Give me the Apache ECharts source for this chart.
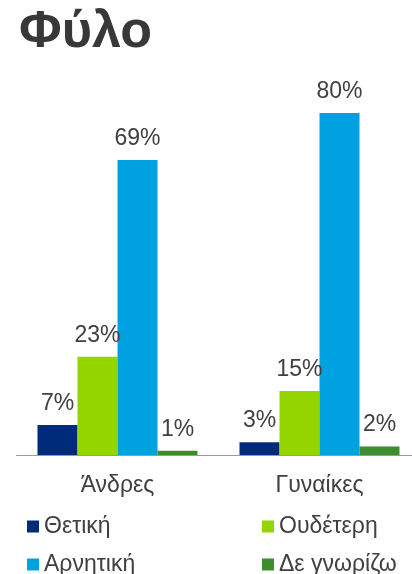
<!DOCTYPE html>
<html>
<head>
<meta charset="utf-8">
<script src="https://cdn.jsdelivr.net/npm/echarts@6/dist/echarts.min.js"></script>
<style>
  html, body { margin: 0; padding: 0; background: #fff; }
  #chart { width: 412px; height: 574px; }
</style>
</head>
<body>
<div id="chart"></div>
<script>
let categories = ['Άνδρες', 'Γυναίκες']
let seriesNames = ['Θετική', 'Ουδέτερη', 'Αρνητική', 'Δε γνωρίζω']
let positive = [7, 3]
let neutral = [23, 15]
let negative = [69, 80]
let dontKnow = [1, 2]
let colors = ['#002a7a', '#94d500', '#00a1e0', '#3d8d2f']

let font = '"Liberation Sans", Arial, sans-serif'
let values = [positive, neutral, negative, dontKnow]

let series = seriesNames.map((name, i) => ({
  name: name,
  type: 'bar',
  data: values[i],
  barWidth: 40,
  barGap: '0%',
  itemStyle: { color: colors[i] },
  label: {
    show: true,
    position: 'top',
    distance: 10,
    formatter: '{c}%',
    color: '#404040',
    fontSize: 23,
    fontFamily: font
  }
}))

// one legend per item so the 2x2 layout is fixed
let legendPos = [[22, 510], [257, 510], [22, 548], [257, 548]]
let legends = seriesNames.map((name, i) => ({
  left: legendPos[i][0],
  top: legendPos[i][1],
  data: [name],
  itemWidth: 12,
  itemHeight: 12,
  icon: 'rect',
  textStyle: { color: '#404040', fontSize: 23, fontFamily: font }
}))

echarts.init(document.getElementById('chart')).setOption({
  animation: false,
  title: {
    text: 'Φύλο',
    left: 14,
    top: 2,
    textStyle: { color: '#383838', fontSize: 52, fontWeight: 'bold', fontFamily: font }
  },
  legend: legends,
  grid: { left: 16.5, width: 404, top: 27.5, bottom: 119, outerBoundsMode: 'none', containLabel: false },
  xAxis: {
    type: 'category',
    data: categories,
    axisLine: { lineStyle: { color: '#999', width: 1 } },
    axisTick: { length: 7, lineStyle: { color: '#999' } },
    axisLabel: { color: '#404040', fontSize: 23, fontFamily: font, margin: 19 }
  },
  yAxis: {
    type: 'value',
    min: 0,
    max: 100,
    show: false,
    splitLine: { show: false }
  },
  series: series
})
</script>
</body>
</html>
